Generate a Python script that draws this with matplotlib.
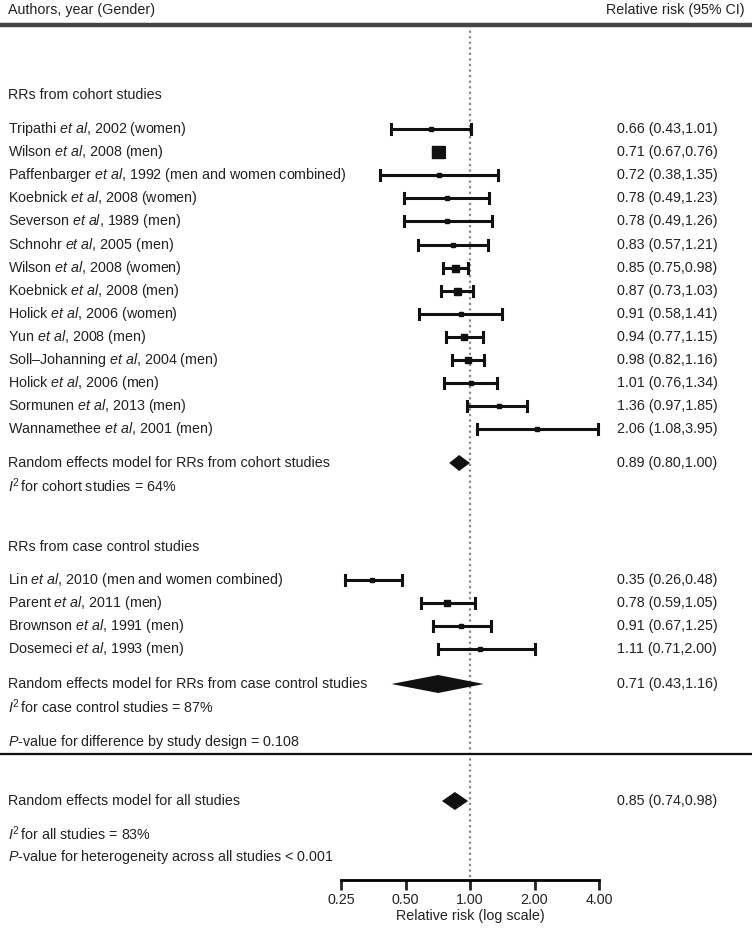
import matplotlib
matplotlib.use("Agg")
import matplotlib.pyplot as plt
from matplotlib.transforms import blended_transform_factory
from matplotlib.lines import Line2D

plt.rcParams['font.family'] = ['Liberation Sans', 'DejaVu Sans']
plt.rcParams['mathtext.fontset'] = 'custom'
plt.rcParams['mathtext.rm'] = 'Liberation Sans'
plt.rcParams['mathtext.it'] = 'Liberation Sans:italic'

# cohort studies
cohort_labels = [
    "Tripathi $et$ $al$, 2002 (women)",
    "Wilson $et$ $al$, 2008 (men)",
    "Paffenbarger $et$ $al$, 1992 (men and women combined)",
    "Koebnick $et$ $al$, 2008 (women)",
    "Severson $et$ $al$, 1989 (men)",
    "Schnohr $et$ $al$, 2005 (men)",
    "Wilson $et$ $al$, 2008 (women)",
    "Koebnick $et$ $al$, 2008 (men)",
    "Holick $et$ $al$, 2006 (women)",
    "Yun $et$ $al$, 2008 (men)",
    "Soll\u2013Johanning $et$ $al$, 2004 (men)",
    "Holick $et$ $al$, 2006 (men)",
    "Sormunen $et$ $al$, 2013 (men)",
    "Wannamethee $et$ $al$, 2001 (men)",
]
cohort_rr = [0.66, 0.71, 0.72, 0.78, 0.78, 0.83, 0.85, 0.87, 0.91, 0.94, 0.98, 1.01, 1.36, 2.06]
cohort_lo = [0.43, 0.67, 0.38, 0.49, 0.49, 0.57, 0.75, 0.73, 0.58, 0.77, 0.82, 0.76, 0.97, 1.08]
cohort_hi = [1.01, 0.76, 1.35, 1.23, 1.26, 1.21, 0.98, 1.03, 1.41, 1.15, 1.16, 1.34, 1.85, 3.95]
cohort_box = [4, 12, 4, 5, 5, 5, 7, 7, 4, 6, 6, 5, 5, 4]

# case control studies
cc_labels = [
    "Lin $et$ $al$, 2010 (men and women combined)",
    "Parent $et$ $al$, 2011 (men)",
    "Brownson $et$ $al$, 1991 (men)",
    "Dosemeci $et$ $al$, 1993 (men)",
]
cc_rr = [0.35, 0.78, 0.91, 1.11]
cc_lo = [0.26, 0.59, 0.67, 0.71]
cc_hi = [0.48, 1.05, 1.25, 2.00]
cc_box = [5, 6, 5, 4]

# pooled estimates
pooled_rr = [0.89, 0.71, 0.85]
pooled_lo = [0.80, 0.43, 0.74]
pooled_hi = [1.00, 1.16, 0.98]

W, H = 752, 931
fig = plt.figure(figsize=(W / 100, H / 100), dpi=100)
ax = fig.add_axes([341 / W, (H - 880) / H, 258 / W, 880 / H])
ax.set_xscale('log', base=2)
ax.set_xlim(0.25, 4)
ax.set_ylim(880, 0)
for s in ['top', 'left', 'right']:
    ax.spines[s].set_visible(False)
ax.spines['bottom'].set_linewidth(2)
ax.set_yticks([])
ax.set_xticks([0.25, 0.5, 1, 2, 4])
ax.set_xticklabels(["0.25", "0.50", "1.00", "2.00", "4.00"])
ax.minorticks_off()
ax.tick_params(axis='x', length=7, width=2, labelsize=10.3, pad=2, colors='#222222')
ax.set_xlabel("Relative risk (log scale)", fontsize=10.3, labelpad=2, color='#222222')
ax.patch.set_visible(False)

tr = blended_transform_factory(fig.transFigure, ax.transData)
fs = 10.3
tc = '#222222'
xl = 8 / W
xr = 617 / W


def txt(y, s, x=xl, **kw):
    ax.text(x, y, s, transform=tr, fontsize=fs, color=tc, va='center', **kw)


def study(y, label, rr, lo, hi, box):
    ax.plot([lo, hi], [y, y], color='#111111', lw=2.2, clip_on=False)
    for e in (lo, hi):
        ax.plot([e, e], [y - 5, y + 5], color='#111111', lw=2.2, clip_on=False)
    ax.plot(rr, y, marker='s', ms=box * 0.72, color='#111111', clip_on=False)
    txt(y, label)
    txt(y, f"{rr:.2f} ({lo:.2f},{hi:.2f})", x=xr)


def diamond(y, h, rr, lo, hi):
    ax.fill([lo, rr, hi, rr], [y, y - h / 2, y, y + h / 2], color='#111111', lw=0, clip_on=False)
    txt(y, f"{rr:.2f} ({lo:.2f},{hi:.2f})", x=xr)


# reference line
ax.plot([1, 1], [25, 880], ls=(0, (1, 1.5)), color='#888888', lw=1.6, zorder=0)

# header
txt(10, "Authors, year (Gender)")
txt(10, "Relative risk (95% CI)", x=745 / W, ha='right')
fig.add_artist(Line2D([0, 1], [25, 25], transform=tr, color='#444444', lw=3.2))

txt(95, "RRs from cohort studies")
for i in range(len(cohort_labels)):
    study(129 + 23.1 * i, cohort_labels[i], cohort_rr[i], cohort_lo[i], cohort_hi[i], cohort_box[i])

txt(463, "Random effects model for RRs from cohort studies")
diamond(463, 16, pooled_rr[0], pooled_lo[0], pooled_hi[0])
txt(486, "$I^2\\!$ for cohort studies = 64%")

txt(547, "RRs from case control studies")
for i in range(len(cc_labels)):
    study(580 + 23 * i, cc_labels[i], cc_rr[i], cc_lo[i], cc_hi[i], cc_box[i])

txt(684, "Random effects model for RRs from case control studies")
diamond(684, 18, pooled_rr[1], pooled_lo[1], pooled_hi[1])
txt(707, "$I^2\\!$ for case control studies = 87%")

txt(742, "$P$-value for difference by study design = 0.108")
fig.add_artist(Line2D([0, 1], [754, 754], transform=tr, color='#111111', lw=1.6))

txt(801, "Random effects model for all studies")
diamond(801, 18, pooled_rr[2], pooled_lo[2], pooled_hi[2])
txt(834, "$I^2\\!$ for all studies = 83%")
txt(857, "$P$-value for heterogeneity across all studies < 0.001")

fig.savefig("out.png", dpi=100)
